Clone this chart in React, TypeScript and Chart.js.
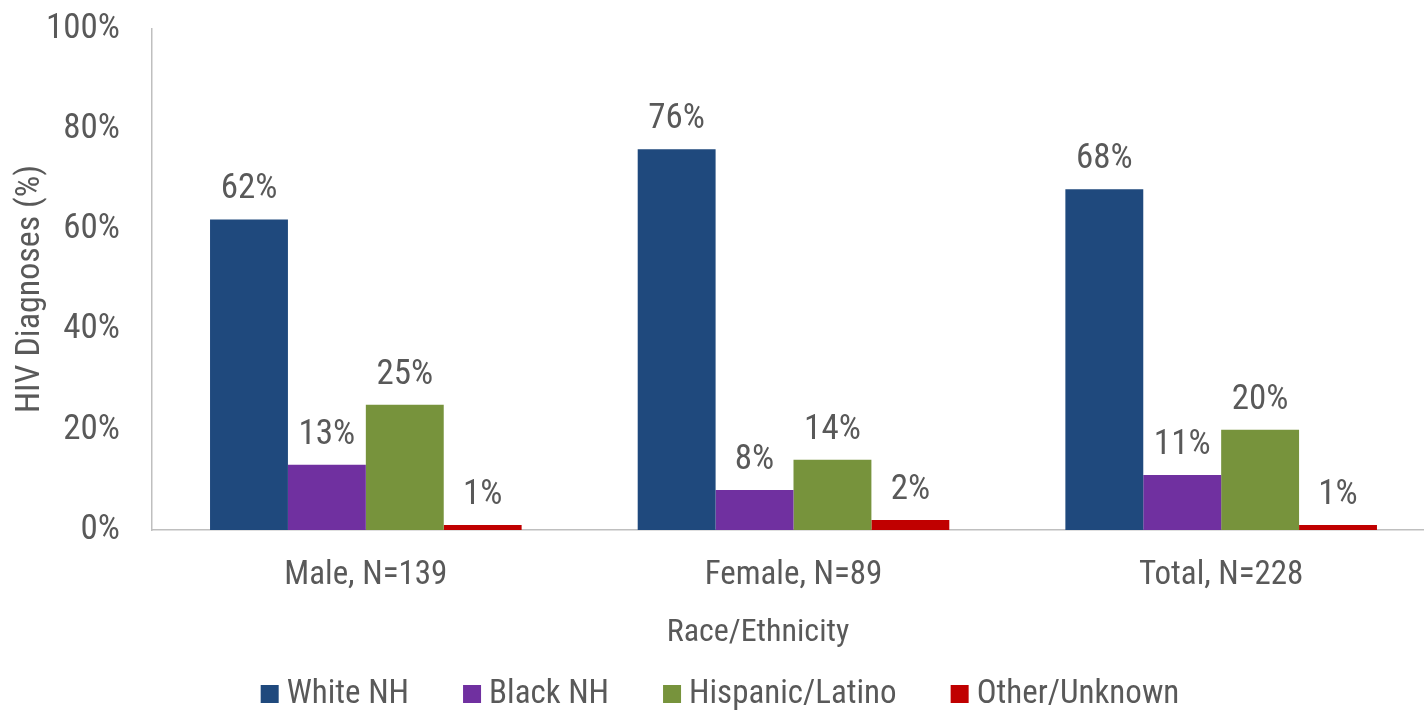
import React, { useEffect, useRef } from "react";
import { Chart, registerables } from "chart.js";

Chart.register(...registerables);

const categories = ["Male, N=139", "Female, N=89", "Total, N=228"];
const seriesNames = ["White NH", "Black NH", "Hispanic/Latino", "Other/Unknown"];
const whiteNH = [62, 76, 68];
const blackNH = [13, 8, 11];
const hispanic = [25, 14, 20];
const otherUnknown = [1, 2, 1];
const seriesColors = ["#1F497D", "#7030A0", "#77933C", "#C00000"];
const yTicks = [0, 20, 40, 60, 80, 100];
const xTitle = "Race/Ethnicity";
const yTitle = "HIV Diagnoses (%)";

const FONT = "'Roboto Condensed', 'DejaVu Sans Condensed', sans-serif";
const TEXT = "#595959";
const AXIS = "#BFBFBF";

const dataLabelPlugin = {
  id: "dataLabels",
  afterDatasetsDraw(chart: any) {
    const ctx = chart.ctx;
    ctx.save();
    ctx.font = `35px ${FONT}`;
    ctx.fillStyle = TEXT;
    ctx.textAlign = "center";
    ctx.textBaseline = "alphabetic";
    chart.data.datasets.forEach((ds: any, i: number) => {
      const meta = chart.getDatasetMeta(i);
      meta.data.forEach((bar: any, j: number) => {
        ctx.fillText(`${ds.data[j]}%`, bar.x, bar.y - 21);
      });
    });
    ctx.restore();
  },
};

const axisTitlePlugin = {
  id: "axisTitles",
  afterDraw(chart: any) {
    const ctx = chart.ctx;
    ctx.save();
    ctx.fillStyle = TEXT;
    ctx.textAlign = "center";
    ctx.textBaseline = "middle";
    ctx.font = `32px ${FONT}`;
    ctx.fillText(xTitle, 758, 633);
    ctx.translate(30, 289);
    ctx.rotate(-Math.PI / 2);
    ctx.font = `34px ${FONT}`;
    ctx.fillText(yTitle, 0, 0);
    ctx.restore();
  },
};

const legendPlugin = {
  id: "customLegend",
  afterDraw(chart: any) {
    const ctx = chart.ctx;
    ctx.save();
    ctx.font = `33px ${FONT}`;
    const box = 18;
    const textGap = 8;
    const gap = 54;
    const items = chart.data.datasets.map((ds: any) => ({
      label: ds.label,
      color: ds.backgroundColor,
      w: ctx.measureText(ds.label).width,
    }));
    const total =
      items.reduce((s: number, it: any) => s + box + textGap + it.w, 0) + gap * (items.length - 1);
    let x = chart.width / 2 - total / 2;
    const cy = 694;
    ctx.textBaseline = "middle";
    ctx.textAlign = "left";
    items.forEach((it: any) => {
      ctx.fillStyle = it.color;
      ctx.fillRect(x, cy - box / 2, box, box);
      ctx.fillStyle = TEXT;
      ctx.fillText(it.label, x + box + textGap, cy + 1);
      x += box + textGap + it.w + gap;
    });
    ctx.restore();
  },
};

export default function App() {
  const ref = useRef<HTMLCanvasElement | null>(null);

  useEffect(() => {
    if (!ref.current) return;
    const values = [whiteNH, blackNH, hispanic, otherUnknown];
    const chart = new Chart(ref.current, {
      type: "bar",
      data: {
        labels: categories,
        datasets: seriesNames.map((name, i) => ({
          label: name,
          data: values[i],
          backgroundColor: seriesColors[i],
          borderWidth: 0,
          categoryPercentage: 0.7286,
          barPercentage: 1.0,
        })),
      },
      options: {
        animation: false,
        responsive: false,
        devicePixelRatio: 1,
        layout: { padding: { left: 0, right: 5, top: 29, bottom: 57 } },
        plugins: {
          legend: { display: false },
          tooltip: { enabled: false },
        },
        scales: {
          x: {
            grid: { display: false, drawTicks: false },
            border: { display: true, color: AXIS, width: 1.5 },
            ticks: { color: TEXT, font: { family: FONT, size: 33 }, padding: 26 },
            afterFit(scale: any) {
              scale.height = 124;
              scale.paddingLeft = 0;
              scale.paddingRight = 0;
            },
          },
          y: {
            min: 0,
            max: 100,
            grid: { display: false, drawTicks: false },
            border: { display: true, color: AXIS, width: 1.5 },
            afterBuildTicks(scale: any) {
              scale.ticks = yTicks.map((v) => ({ value: v }));
            },
            ticks: {
              color: TEXT,
              font: { family: FONT, size: 35 },
              padding: 32,
              callback: (v: any) => `${v}%`,
            },
            afterFit(scale: any) {
              scale.width = 152;
              scale.paddingTop = 0;
              scale.paddingBottom = 0;
            },
          },
        },
      },
      plugins: [dataLabelPlugin, axisTitlePlugin, legendPlugin],
    });
    return () => chart.destroy();
  }, []);

  return (
    <div
      style={{
        position: "fixed",
        left: 0,
        top: 0,
        width: 1424,
        height: 711,
        overflow: "hidden",
        background: "#ffffff",
      }}
    >
      <canvas ref={ref} width={1440} height={711} style={{ width: 1440, height: 711, display: "block" }} />
    </div>
  );
}
